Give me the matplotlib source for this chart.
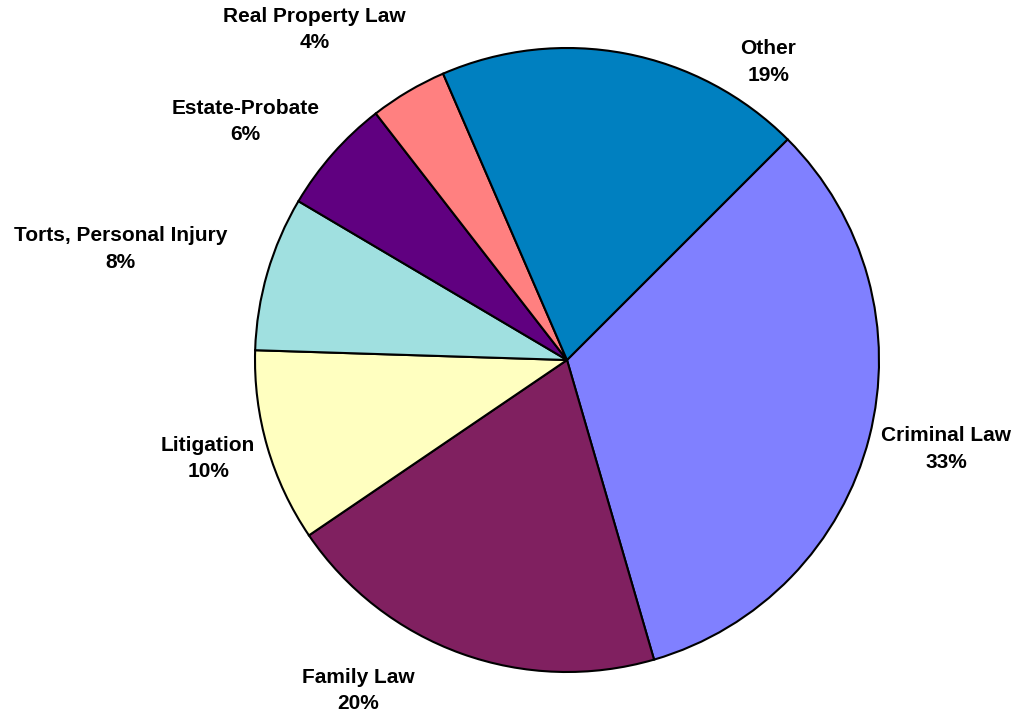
import matplotlib.pyplot as plt

plt.rcParams['font.family'] = ['Liberation Sans', 'DejaVu Sans']

categories = ['Criminal Law', 'Family Law', 'Litigation', 'Torts, Personal Injury',
              'Estate-Probate', 'Real Property Law', 'Other']
shares = [33, 20, 10, 8, 6, 4, 19]
colors = ['#8080FF', '#802060', '#FFFFC0', '#A0E0E0', '#600080', '#FF8080', '#0080C0']

# label spots (in pie-radius units), roughly where excel put them
label_pos = [(1.215, -0.285), (-0.67, -1.06), (-1.15, -0.315), (-1.43, 0.355),
             (-1.03, 0.765), (-0.81, 1.06), (0.645, 0.955)]

W, H = 1018, 721
cx, cy, r = 567, 360, 312

fig = plt.figure(figsize=(W / 100, H / 100), dpi=100)
ax = fig.add_axes([0, 0, 1, 1])

ax.pie(shares, colors=colors, startangle=45, counterclock=False, radius=1,
       wedgeprops=dict(edgecolor='black', linewidth=1.5))

# labels with percentages
for name, val, (lx, ly) in zip(categories, shares, label_pos):
    ax.text(lx, ly, f'{name}\n{val}%', ha='center', va='center',
            fontsize=15, fontweight='bold', linespacing=1.5)

ax.set_xlim(-cx / r, (W - cx) / r)
ax.set_ylim(-(H - cy) / r, cy / r)
ax.set_aspect('equal')
ax.axis('off')

fig.savefig('out.png', dpi=100)
